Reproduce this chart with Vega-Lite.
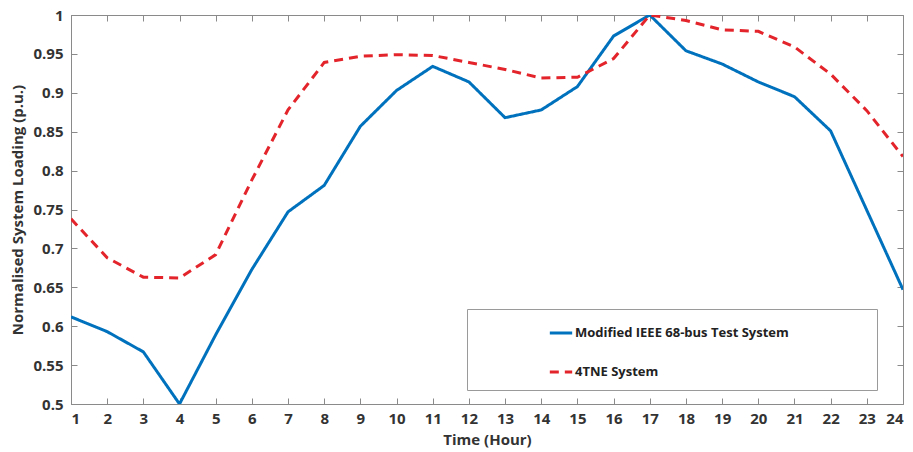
{
  "$schema": "https://vega.github.io/schema/vega-lite/v6.json",
  "width": 832,
  "height": 389,
  "autosize": "none",
  "padding": {"left": 71, "top": 15, "right": 10, "bottom": 48},
  "background": "white",
  "config": {
    "font": "Open Sans",
    "view": {"stroke": "#8a8a8a", "strokeWidth": 1},
    "axis": {
      "labelFont": "Open Sans",
      "labelFontWeight": "bold",
      "labelFontSize": 15,
      "labelColor": "#333333",
      "titleFont": "Open Sans",
      "titleFontWeight": "bold",
      "titleFontSize": 15,
      "titleColor": "#333333",
      "gridColor": "#e3e3e3",
      "gridWidth": 1,
      "domainColor": "#8a8a8a",
      "tickColor": "#8a8a8a",
      "tickSize": -6
    },
    "legend": {
      "labelFont": "Open Sans",
      "labelFontWeight": "bold",
      "labelFontSize": 13,
      "labelColor": "#222222"
    }
  },
  "data": {
    "values": [
      {"hour": 1, "series": "Modified IEEE 68-bus Test System", "value": 0.612},
      {"hour": 2, "series": "Modified IEEE 68-bus Test System", "value": 0.593},
      {"hour": 3, "series": "Modified IEEE 68-bus Test System", "value": 0.567},
      {"hour": 4, "series": "Modified IEEE 68-bus Test System", "value": 0.500},
      {"hour": 5, "series": "Modified IEEE 68-bus Test System", "value": 0.589},
      {"hour": 6, "series": "Modified IEEE 68-bus Test System", "value": 0.673},
      {"hour": 7, "series": "Modified IEEE 68-bus Test System", "value": 0.747},
      {"hour": 8, "series": "Modified IEEE 68-bus Test System", "value": 0.781},
      {"hour": 9, "series": "Modified IEEE 68-bus Test System", "value": 0.857},
      {"hour": 10, "series": "Modified IEEE 68-bus Test System", "value": 0.903},
      {"hour": 11, "series": "Modified IEEE 68-bus Test System", "value": 0.934},
      {"hour": 12, "series": "Modified IEEE 68-bus Test System", "value": 0.914},
      {"hour": 13, "series": "Modified IEEE 68-bus Test System", "value": 0.868},
      {"hour": 14, "series": "Modified IEEE 68-bus Test System", "value": 0.878},
      {"hour": 15, "series": "Modified IEEE 68-bus Test System", "value": 0.908},
      {"hour": 16, "series": "Modified IEEE 68-bus Test System", "value": 0.973},
      {"hour": 17, "series": "Modified IEEE 68-bus Test System", "value": 1.0},
      {"hour": 18, "series": "Modified IEEE 68-bus Test System", "value": 0.954},
      {"hour": 19, "series": "Modified IEEE 68-bus Test System", "value": 0.937},
      {"hour": 20, "series": "Modified IEEE 68-bus Test System", "value": 0.914},
      {"hour": 21, "series": "Modified IEEE 68-bus Test System", "value": 0.895},
      {"hour": 22, "series": "Modified IEEE 68-bus Test System", "value": 0.851},
      {"hour": 23, "series": "Modified IEEE 68-bus Test System", "value": 0.749},
      {"hour": 24, "series": "Modified IEEE 68-bus Test System", "value": 0.647},
      {"hour": 1, "series": "4TNE System", "value": 0.738},
      {"hour": 2, "series": "4TNE System", "value": 0.688},
      {"hour": 3, "series": "4TNE System", "value": 0.663},
      {"hour": 4, "series": "4TNE System", "value": 0.662},
      {"hour": 5, "series": "4TNE System", "value": 0.692},
      {"hour": 6, "series": "4TNE System", "value": 0.788},
      {"hour": 7, "series": "4TNE System", "value": 0.878},
      {"hour": 8, "series": "4TNE System", "value": 0.939},
      {"hour": 9, "series": "4TNE System", "value": 0.947},
      {"hour": 10, "series": "4TNE System", "value": 0.949},
      {"hour": 11, "series": "4TNE System", "value": 0.948},
      {"hour": 12, "series": "4TNE System", "value": 0.939},
      {"hour": 13, "series": "4TNE System", "value": 0.930},
      {"hour": 14, "series": "4TNE System", "value": 0.919},
      {"hour": 15, "series": "4TNE System", "value": 0.920},
      {"hour": 16, "series": "4TNE System", "value": 0.944},
      {"hour": 17, "series": "4TNE System", "value": 1.0},
      {"hour": 18, "series": "4TNE System", "value": 0.993},
      {"hour": 19, "series": "4TNE System", "value": 0.981},
      {"hour": 20, "series": "4TNE System", "value": 0.979},
      {"hour": 21, "series": "4TNE System", "value": 0.959},
      {"hour": 22, "series": "4TNE System", "value": 0.924},
      {"hour": 23, "series": "4TNE System", "value": 0.877},
      {"hour": 24, "series": "4TNE System", "value": 0.818}
    ]
  },
  "layer": [
    {
      "mark": {"type": "line", "opacity": 0},
      "encoding": {
        "x": {
          "field": "hour",
          "type": "quantitative",
          "scale": {"domain": [1, 24], "nice": false, "zero": false},
          "axis": {"orient": "top", "values": [1,2,3,4,5,6,7,8,9,10,11,12,13,14,15,16,17,18,19,20,21,22,23,24], "labels": false, "title": null, "grid": false, "domain": false}
        },
        "y": {
          "field": "value",
          "type": "quantitative",
          "scale": {"domain": [0.5, 1], "nice": false, "zero": false},
          "axis": {"orient": "right", "values": [0.5,0.55,0.6,0.65,0.7,0.75,0.8,0.85,0.9,0.95,1], "labels": false, "title": null, "grid": false, "domain": false}
        },
        "detail": {"field": "series"}
      }
    },
    {
      "mark": {"type": "line", "strokeWidth": 3, "clip": true},
      "encoding": {
        "x": {
          "field": "hour",
          "type": "quantitative",
          "scale": {"domain": [1, 24], "nice": false, "zero": false},
          "axis": {"orient": "bottom", "values": [1,2,3,4,5,6,7,8,9,10,11,12,13,14,15,16,17,18,19,20,21,22,23,24], "title": "Time (Hour)", "labelPadding": 13, "titlePadding": 6}
        },
        "y": {
          "field": "value",
          "type": "quantitative",
          "scale": {"domain": [0.5, 1], "nice": false, "zero": false},
          "axis": {"orient": "left", "values": [0.5,0.55,0.6,0.65,0.7,0.75,0.8,0.85,0.9,0.95,1], "format": ".2~f", "title": "Normalised System Loading (p.u.)", "labelPadding": 14, "titlePadding": 7}
        },
        "color": {
          "field": "series",
          "type": "nominal",
          "scale": {"domain": ["Modified IEEE 68-bus Test System", "4TNE System"], "range": ["#0072BD", "#e3242b"]},
          "legend": {
            "title": null,
            "orient": "none",
            "legendX": 396,
            "legendY": 294,
            "padding": 11,
            "symbolOffset": 70,
            "strokeColor": "#9a9a9a",
            "fillColor": "white",
            "rowPadding": 19,
            "labelOffset": 1,
            "labelLimit": 600,
            "symbolStrokeWidth": 3,
            "symbolSize": 500,
            "labelExpr": "datum.label + ' \u2003\u2003\u2003\u2003\u2003\u2002\u2009\u200b'",
            "labelColor": "#222222"
          }
        },
        "strokeDash": {
          "field": "series",
          "type": "nominal",
          "scale": {"domain": ["Modified IEEE 68-bus Test System", "4TNE System"], "range": [[1, 0], [9, 6]]},
          "legend": null
        }
      }
    }
  ],
  "resolve": {"axis": {"x": "independent", "y": "independent"}}
}
